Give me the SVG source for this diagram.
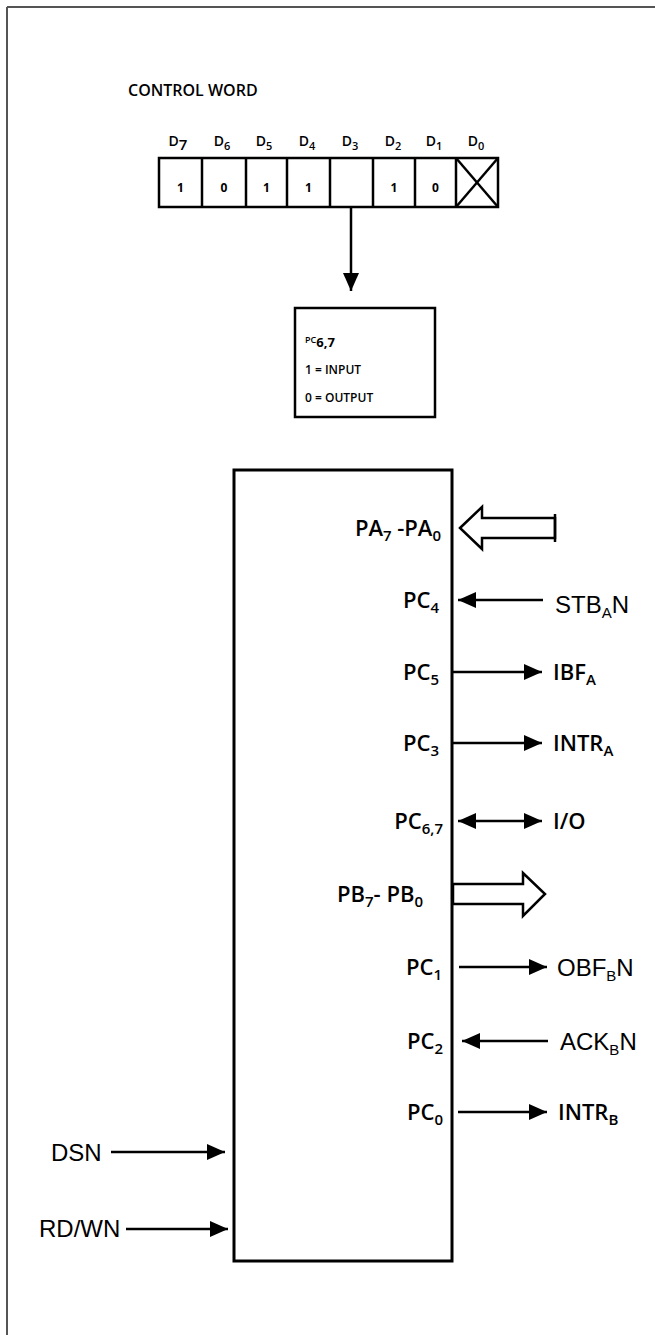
<svg xmlns="http://www.w3.org/2000/svg" width="655" height="1335" viewBox="0 0 655 1335">
<defs>
<style>
.frame{stroke:#555;stroke-width:2;fill:none}
.box{stroke:#000;stroke-width:3;fill:#fff}
.cell{stroke:#000;stroke-width:2.5;fill:none}
.wire{stroke:#000;stroke-width:2.5;fill:none}
.hum{font-family:"Open Sans","Noto Sans",sans-serif;font-weight:600;fill:#000}
.ari{font-family:"Liberation Sans",Arial,sans-serif;fill:#000}
.pin{font-size:22px}
.sig{font-size:24px}
.sub{font-size:15px}
.reg{font-size:14px}
.val{font-size:12px;font-weight:700}
</style>
<marker id="ah" markerUnits="userSpaceOnUse" markerWidth="18" markerHeight="16" refX="18" refY="8" orient="auto-start-reverse" viewBox="0 0 18 16">
<path d="M0,0 L18,8 L0,16 z" fill="#000"/>
</marker>
</defs>

<g id="frame">
<line class="frame" x1="7" y1="7" x2="655" y2="7"/>
<line class="frame" x1="7" y1="7" x2="7" y2="1335"/>
</g>

<g id="title">
<text class="hum" x="128" y="96" font-size="16">CONTROL WORD</text>
</g>

<g id="control-word">
<rect class="cell" x="159" y="158" width="339" height="49"/>
<line class="cell" x1="202" y1="158" x2="202" y2="207"/>
<line class="cell" x1="246" y1="158" x2="246" y2="207"/>
<line class="cell" x1="287" y1="158" x2="287" y2="207"/>
<line class="cell" x1="330" y1="158" x2="330" y2="207"/>
<line class="cell" x1="373" y1="158" x2="373" y2="207"/>
<line class="cell" x1="415" y1="158" x2="415" y2="207"/>
<line class="cell" x1="456" y1="158" x2="456" y2="207"/>
<line class="cell" x1="456" y1="158" x2="498" y2="207"/>
<line class="cell" x1="498" y1="158" x2="456" y2="207"/>
<g class="hum reg" text-anchor="middle">
<text x="178" y="146">D<tspan class="sub" font-size="11" dy="4">7</tspan></text>
<text x="222" y="146">D<tspan font-size="11" dy="4">6</tspan></text>
<text x="264" y="146">D<tspan font-size="11" dy="4">5</tspan></text>
<text x="307" y="146">D<tspan font-size="11" dy="4">4</tspan></text>
<text x="350" y="146">D<tspan font-size="11" dy="4">3</tspan></text>
<text x="393" y="146">D<tspan font-size="11" dy="4">2</tspan></text>
<text x="434" y="146">D<tspan font-size="11" dy="4">1</tspan></text>
<text x="476" y="146">D<tspan font-size="11" dy="4">0</tspan></text>
</g>
<g class="hum val" text-anchor="middle">
<text x="180.5" y="192">1</text>
<text x="224" y="192">0</text>
<text x="266.5" y="192">1</text>
<text x="308.5" y="192">1</text>
<text x="394" y="192">1</text>
<text x="435.5" y="192">0</text>
</g>
</g>

<g id="pc-box">
<rect class="cell" x="295" y="308" width="140" height="109"/>
<text class="hum" x="305" y="343" font-size="9">PC<tspan font-size="13" font-weight="700" dy="4">6,7</tspan></text>
<text class="hum" x="305" y="374" font-size="12" font-weight="700">1 = INPUT</text>
<text class="hum" x="305" y="402" font-size="12" font-weight="700">0 = OUTPUT</text>
</g>

<g id="chip">
<rect class="box" x="234" y="470" width="218" height="791"/>
<g class="hum pin" text-anchor="end">
<text x="441" y="536">PA<tspan class="sub" dy="5">7</tspan><tspan dy="-5"> -PA</tspan><tspan class="sub" dy="5">0</tspan></text>
<text x="439" y="608">PC<tspan class="sub" dy="5">4</tspan></text>
<text x="439" y="680">PC<tspan class="sub" dy="5">5</tspan></text>
<text x="439" y="751">PC<tspan class="sub" dy="5">3</tspan></text>
<text x="443" y="829">PC<tspan class="sub" dy="5">6,7</tspan></text>
<text x="423" y="902">PB<tspan class="sub" dy="5">7</tspan><tspan dy="-5">- PB</tspan><tspan class="sub" dy="5">0</tspan></text>
<text x="442" y="975">PC<tspan class="sub" dy="5">1</tspan></text>
<text x="443" y="1049">PC<tspan class="sub" dy="5">2</tspan></text>
<text x="443" y="1120">PC<tspan class="sub" dy="5">0</tspan></text>
</g>
</g>

<g id="signals">
<g class="ari sig">
<text x="555" y="613">STB<tspan class="sub" dy="5">A</tspan><tspan dy="-5">N</tspan></text>
<text x="557" y="976">OBF<tspan class="sub" dy="5">B</tspan><tspan dy="-5">N</tspan></text>
<text x="560" y="1050">ACK<tspan class="sub" dy="5">B</tspan><tspan dy="-5">N</tspan></text>
<text x="51" y="1161">DSN</text>
<text x="39" y="1237">RD/WN</text>
</g>
<g class="hum pin">
<text x="553" y="680">IBF<tspan class="sub" dy="5">A</tspan></text>
<text x="553" y="751">INTR<tspan class="sub" dy="5">A</tspan></text>
<text x="553" y="829">I/O</text>
<text x="558" y="1120">INTR<tspan class="sub" dy="5">B</tspan></text>
</g>
</g>

<g id="connectors">
<line class="wire" x1="351" y1="207" x2="351" y2="291" marker-end="url(#ah)"/>
<polygon class="wire" fill="#fff" points="460,528 482,507 482,518 555,518 555,538 482,538 482,549"/>
<line class="wire" x1="555" y1="514" x2="555" y2="542"/>
<line class="wire" x1="543" y1="600" x2="458" y2="600" marker-end="url(#ah)"/>
<line class="wire" x1="453" y1="672" x2="542" y2="672" marker-end="url(#ah)"/>
<line class="wire" x1="453" y1="743" x2="542" y2="743" marker-end="url(#ah)"/>
<line class="wire" x1="458" y1="821" x2="542" y2="821" marker-start="url(#ah)" marker-end="url(#ah)"/>
<polygon class="wire" fill="#fff" points="453,884 523,884 523,873 545,894 523,916 523,904 453,904"/>
<line class="wire" x1="459" y1="967" x2="547" y2="967" marker-end="url(#ah)"/>
<line class="wire" x1="548" y1="1041" x2="462" y2="1041" marker-end="url(#ah)"/>
<line class="wire" x1="458" y1="1112" x2="547" y2="1112" marker-end="url(#ah)"/>
<line class="wire" x1="111" y1="1152" x2="225" y2="1152" marker-end="url(#ah)"/>
<line class="wire" x1="126" y1="1229" x2="228" y2="1229" marker-end="url(#ah)"/>
</g>
</svg>
